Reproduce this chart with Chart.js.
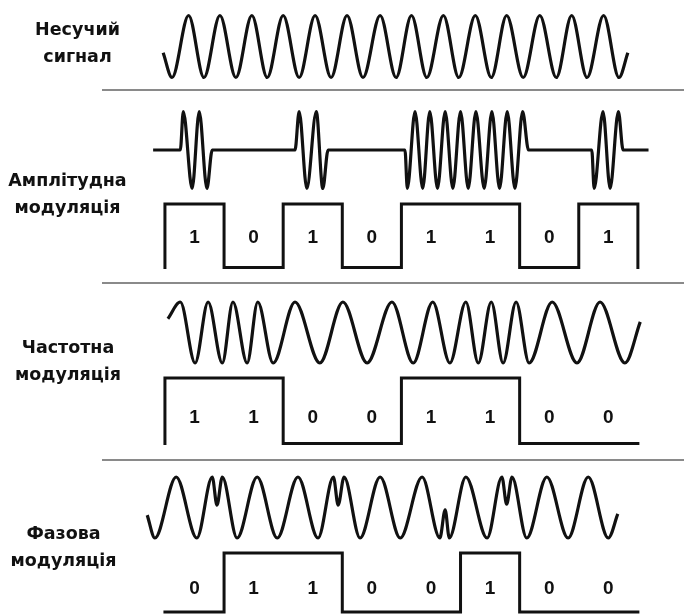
<!DOCTYPE html>
<html>
<head>
<meta charset="utf-8">
<script src="https://cdn.jsdelivr.net/npm/chart.js@4.4.1/dist/chart.umd.min.js"></script>
<style>
html,body{margin:0;padding:0;background:#fff;}
canvas{display:block;}
</style>
</head>
<body>
<canvas id="c" width="684" height="614"></canvas>
<script>
// ================= DATA =================
// Row titles (left column)
const rowTitles = [
  ["Несучий", "сигнал"],
  ["Амплітудна", "модуляція"],
  ["Частотна", "модуляція"],
  ["Фазова", "модуляція"]
];

// Digital message bits per panel
const amBits = [1, 0, 1, 0, 1, 1, 0, 1];
const fmBits = [1, 1, 0, 0, 1, 1, 0, 0];
const pmBits = [0, 1, 1, 0, 0, 1, 0, 0];

// Carrier: time (in bit periods) and level (-1..1) of its turning points
const carrierTime  = [-0.03, 0.12, 0.40, 0.66, 0.93, 1.20, 1.47, 1.73, 2.00, 2.27, 2.54, 2.81, 3.08, 3.35, 3.64, 3.91,
                      4.17, 4.43, 4.71, 4.97, 5.25, 5.52, 5.78, 6.06, 6.34, 6.62, 6.88, 7.14, 7.42, 7.68, 7.83];
const carrierLevel = [-0.2, -1, 1, -1, 1, -1, 1, -1, 1, -1, 1, -1, 1, -1, 1, -1,
                      1, -1, 1, -1, 1, -1, 1, -1, 1, -1, 1, -1, 1, -1, -0.2];

// Amplitude modulated signal
const amTime  = [-0.20, 0.26, 0.31, 0.46, 0.58, 0.71, 0.80,
                 2.20, 2.27, 2.40, 2.56, 2.67, 2.76,
                 4.06, 4.10, 4.23, 4.36, 4.48, 4.61, 4.74, 4.87, 5.00, 5.13, 5.26, 5.40, 5.53, 5.66, 5.79, 5.92, 6.05, 6.15,
                 7.22, 7.26, 7.41, 7.53, 7.67, 7.75,
                 8.18];
const amLevel = [0, 0, 1, -1, 1, -1, 0,
                 0, 1, -1, 1, -1, 0,
                 0, -1, 1, -1, 1, -1, 1, -1, 1, -1, 1, -1, 1, -1, 1, -1, 1, 0,
                 0, -1, 1, -1, 1, 0,
                 0];

// Frequency modulated signal
const fmTime  = [0.05, 0.26, 0.51, 0.73, 0.97, 1.15, 1.39, 1.57, 1.83, 2.20, 2.62, 3.01, 3.42, 3.84,
                 4.20, 4.53, 4.82, 5.09, 5.30, 5.52, 5.72, 5.94, 6.16, 6.55, 6.97, 7.36, 7.78, 8.04];
const fmLevel = [0.45, 1, -1, 1, -1, 1, -1, 1, -1, 1, -1, 1, -1, 1,
                 -1, 1, -1, 1, -1, 1, -1, 1, -1, 1, -1, 1, -1, 0.35];

// Phase modulated signal
const pmTime  = [-0.30, -0.17, 0.19, 0.54, 0.80, 0.88, 0.97, 1.22, 1.56, 1.90, 2.25, 2.59, 2.85, 2.93, 3.03, 3.30, 3.64,
                 3.98, 4.35, 4.65, 4.74, 4.81, 5.09, 5.45, 5.70, 5.78, 5.87, 6.12, 6.46, 6.82, 7.16, 7.50, 7.66];
const pmLevel = [-0.25, -1, 1, -1, 1, 0.08, 1, -1, 1, -1, 1, -1, 1, 0.08, 1, -1, 1,
                 -1, 1, -1, -0.08, -1, 1, -1, 1, 0.11, 1, -1, 1, -1, 1, -1, -0.21];

// ================= LAYOUT / STYLE =================
const W = 684, H = 614;
const INK = '#111111';
const layout = {
  xMin: -2.79, xMax: 8.78,
  // pixel rows where the +1 / -1 levels (waves) or 1 / 0 levels (bits) sit
  bands: {
    yc:  { hi: 15.5,  lo: 77.5,  vHi: 1, vLo: -1 },
    yaw: { hi: 111.5, lo: 188.5, vHi: 1, vLo: -1 },
    yab: { hi: 204,   lo: 267.5, vHi: 1, vLo: 0 },
    yfw: { hi: 302,   lo: 363,   vHi: 1, vLo: -1 },
    yfb: { hi: 378,   lo: 443.5, vHi: 1, vLo: 0 },
    ypw: { hi: 477,   lo: 538,   vHi: 1, vLo: -1 },
    ypb: { hi: 553,   lo: 612,   vHi: 1, vLo: 0 }
  },
  separators: [90, 283, 460],
  sepX0: 102,
  titles: [
    { x: 77.5, y: 34.5 },
    { x: 67.5, y: 185.5 },
    { x: 68,   y: 352.5 },
    { x: 63.5, y: 538.5 }
  ],
  titleLineGap: 27.8,
  titleFont: 'bold 17.5px "DejaVu Sans", sans-serif',
  digitFont: 'bold 19px "Liberation Sans", Arial, sans-serif',
  digitSize: 19
};

function axisRange(b) {
  const s = (b.lo - b.hi) / (b.vHi - b.vLo);
  return { min: b.vLo - (H - b.lo) / s, max: b.vHi + b.hi / s };
}

function toPoints(ts, vs) {
  return ts.map((t, i) => ({ x: t, y: vs[i] }));
}
function squarePoints(bits) {
  const pts = [{ x: 0, y: 0 }];
  bits.forEach((b, i) => pts.push({ x: i, y: b }));
  pts.push({ x: bits.length, y: bits[bits.length - 1] });
  pts.push({ x: bits.length, y: 0 });
  return pts;
}

const waveStyle = {
  borderColor: INK, borderWidth: 3.2, pointRadius: 0, fill: false,
  cubicInterpolationMode: 'monotone', borderJoinStyle: 'round', borderCapStyle: 'butt', clip: false
};
const bitStyle = {
  borderColor: INK, borderWidth: 3, pointRadius: 0, fill: false,
  stepped: true, borderJoinStyle: 'miter', borderCapStyle: 'square', clip: false
};

const bitRows = [
  { axis: 'yab', bits: amBits, level: 0.5 },
  { axis: 'yfb', bits: fmBits, level: 0.41 },
  { axis: 'ypb', bits: pmBits, level: 0.42 }
];

const scales = {
  x: { type: 'linear', display: false, min: layout.xMin, max: layout.xMax }
};
Object.keys(layout.bands).forEach(id => {
  const r = axisRange(layout.bands[id]);
  scales[id] = { type: 'linear', display: false, min: r.min, max: r.max };
});

const decorPlugin = {
  id: 'decor',
  afterDatasetsDraw(chart) {
    const ctx = chart.ctx;
    ctx.save();
    // panel separators
    ctx.strokeStyle = '#8a8a8a';
    ctx.lineWidth = 2;
    layout.separators.forEach(y => {
      ctx.beginPath();
      ctx.moveTo(layout.sepX0, y);
      ctx.lineTo(W, y);
      ctx.stroke();
    });
    // row titles
    ctx.fillStyle = INK;
    ctx.textAlign = 'center';
    ctx.textBaseline = 'alphabetic';
    ctx.font = layout.titleFont;
    rowTitles.forEach((lines, i) => {
      const p = layout.titles[i];
      lines.forEach((s, j) => ctx.fillText(s, p.x, p.y + j * layout.titleLineGap));
    });
    // bit digits
    ctx.font = layout.digitFont;
    const xs = chart.scales.x;
    bitRows.forEach(r => {
      const ys = chart.scales[r.axis];
      r.bits.forEach((b, i) => {
        const x = xs.getPixelForValue(i + 0.5);
        const y = ys.getPixelForValue(r.level) + layout.digitSize * 0.358;
        ctx.fillText(String(b), x, y);
      });
    });
    ctx.restore();
  }
};

new Chart(document.getElementById('c'), {
  type: 'line',
  data: {
    datasets: [
      Object.assign({ label: 'Несучий сигнал', data: toPoints(carrierTime, carrierLevel), yAxisID: 'yc' }, waveStyle),
      Object.assign({ label: 'АМ', data: toPoints(amTime, amLevel), yAxisID: 'yaw' }, waveStyle),
      Object.assign({ label: 'АМ біти', data: squarePoints(amBits), yAxisID: 'yab' }, bitStyle),
      Object.assign({ label: 'ЧМ', data: toPoints(fmTime, fmLevel), yAxisID: 'yfw' }, waveStyle),
      Object.assign({ label: 'ЧМ біти', data: squarePoints(fmBits), yAxisID: 'yfb' }, bitStyle),
      Object.assign({ label: 'ФМ', data: toPoints(pmTime, pmLevel), yAxisID: 'ypw' }, waveStyle),
      Object.assign({ label: 'ФМ біти', data: squarePoints(pmBits), yAxisID: 'ypb' }, bitStyle)
    ]
  },
  options: {
    responsive: false,
    animation: false,
    events: [],
    layout: { padding: 0 },
    plugins: { legend: { display: false }, tooltip: { enabled: false }, title: { display: false } },
    scales: scales
  },
  plugins: [decorPlugin]
});
</script>
</body>
</html>
